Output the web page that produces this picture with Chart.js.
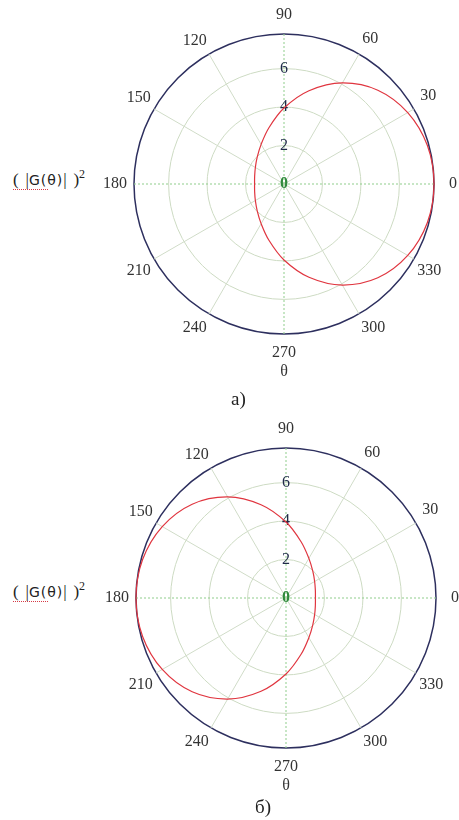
<!DOCTYPE html>
<html>
<head>
<meta charset="utf-8">
<script src="https://cdn.jsdelivr.net/npm/chart.js@4/dist/chart.umd.min.js"></script>
<style>
  html, body { margin: 0; padding: 0; background: #fff; }
  body { position: relative; width: 459px; height: 820px; overflow: hidden; font-family: 'Liberation Serif', serif; color: #222; }
  canvas { position: absolute; }
  .ylab { position: absolute; left: 13px; font-size: 17px; line-height: 18px; white-space: nowrap; }
  .ylab .g { font-family: 'DejaVu Sans', sans-serif; font-size: 14px; letter-spacing: 1px; }
  .ylab sup { font-size: 12px; }
  .ylab .ul { position: absolute; left: 0; top: 24px; width: 35px; border-bottom: 1px dotted #d63a46; }
  .cap { position: absolute; font-size: 19px; }
</style>
</head>
<body>
<div class="ylab" style="top:165px">(&#8201;&#8201;|<span class="g">G(θ)</span>|&#8201;&#8201;)<sup>2</sup><span class="ul"></span></div>
<canvas id="polarA" width="470" height="440" style="left:0;top:-20px"></canvas>
<div class="cap" style="left:231px;top:388px">а)</div>

<div class="ylab" style="top:577px">(&#8201;&#8201;|<span class="g">G(θ)</span>|&#8201;&#8201;)<sup>2</sup><span class="ul"></span></div>
<canvas id="polarB" width="470" height="440" style="left:2px;top:394px"></canvas>
<div class="cap" style="left:255px;top:796px">б)</div>

<script>
// angle of each sample, degrees
const angles = [0, 15, 30, 45, 60, 75, 90, 105, 120, 135, 150, 165,
                180, 195, 210, 225, 240, 255, 270, 285, 300, 315, 330, 345];
// |G(θ)|^2, case а)
const gainA = [7.8, 7.72, 7.43, 6.9, 6.07, 5.02, 3.95, 3.03, 2.38, 1.97, 1.72, 1.58,
               1.53, 1.58, 1.72, 1.97, 2.38, 3.03, 3.95, 5.02, 6.07, 6.9, 7.43, 7.72];
// |G(θ)|^2, case б)
const gainB = [1.53, 1.58, 1.72, 1.97, 2.38, 3.03, 3.95, 5.02, 6.07, 6.9, 7.43, 7.72,
               7.8, 7.72, 7.43, 6.9, 6.07, 5.02, 3.95, 3.03, 2.38, 1.97, 1.72, 1.58];
// radial rings (the last one is the outer border)
const ringValues = [0, 2, 4, 6, 7.8];

// radar goes clockwise from the top, so list angles 90, 75, 60 ... 105
const thetaOrder = angles.map((a, i) => (90 - 15 * i + 360) % 360);

function ordered(values) {
  return thetaOrder.map(t => values[angles.indexOf(t)]);
}

function isMajor(t) { return t % 30 === 0; }
function isAxis(t) { return t % 90 === 0; }

// keep every angle label centred about 19px outside the rim
// (chart.js adds another 8px on its own, hence the -8)
function labelPadding(ctx) {
  const t = thetaOrder[ctx.index];
  const rad = t * Math.PI / 180;
  const halfW = isMajor(t) ? String(t).length * 4 : 0;
  return 19 - 8 - halfW * Math.abs(Math.cos(rad)) - 9.6 * Math.abs(Math.sin(rad));
}

// the "0" at the pole (chart.js never draws the first radial tick)
const centreZero = {
  id: 'centreZero',
  afterDatasetsDraw(chart) {
    const r = chart.scales.r;
    const ctx = chart.ctx;
    ctx.save();
    ctx.font = 'bold 16px "Liberation Serif"';
    ctx.fillStyle = '#2f8a3c';
    ctx.textAlign = 'center';
    ctx.textBaseline = 'middle';
    ctx.fillText(String(ringValues[0]), r.xCenter, r.yCenter);
    ctx.restore();
  }
};

function makePolar(id, values) {
  const last = ringValues.length - 1;
  return new Chart(document.getElementById(id), {
    type: 'radar',
    data: {
      labels: thetaOrder.map(String),
      datasets: [{
        data: ordered(values),
        borderColor: '#e0353f',
        borderWidth: 1.2,
        pointRadius: 0,
        tension: 0.35,
        fill: false
      }]
    },
    options: {
      responsive: false,
      animation: false,
      events: [],
      layout: { padding: { left: 99, right: 9, top: 5, bottom: 22 } },
      plugins: { legend: { display: false }, tooltip: { enabled: false } },
      scales: {
        r: {
          min: 0,
          max: ringValues[last],
          startAngle: 0,
          afterBuildTicks: s => { s.ticks = ringValues.map(v => ({ value: v })); },
          grid: {
            circular: true,
            color: c => c.index === last ? '#2d2f5e' : '#cddbc3',
            lineWidth: c => c.index === last ? 1.5 : 1
          },
          angleLines: {
            color: c => isAxis(thetaOrder[c.index]) ? '#8fcd8c' : '#d0dcc8',
            lineWidth: c => isMajor(thetaOrder[c.index]) ? 1 : 0,
            borderDash: c => isAxis(thetaOrder[c.index]) ? [2, 2] : []
          },
          pointLabels: {
            display: true,
            padding: labelPadding,
            color: '#333',
            font: { family: 'Liberation Serif', size: 16 },
            callback: lbl => {
              const t = Number(lbl);
              if (!isMajor(t)) return '';
              return t === 270 ? ['270', 'θ'] : lbl;
            }
          },
          ticks: {
            showLabelBackdrop: false,
            backdropPadding: 0,
            color: '#1f2a48',
            font: { family: 'Liberation Serif', size: 16 },
            callback: v => (v > 0 && v % 2 === 0) ? String(v) : ''
          }
        }
      }
    },
    plugins: [centreZero]
  });
}

makePolar('polarA', gainA);
makePolar('polarB', gainB);
</script>
</body>
</html>
